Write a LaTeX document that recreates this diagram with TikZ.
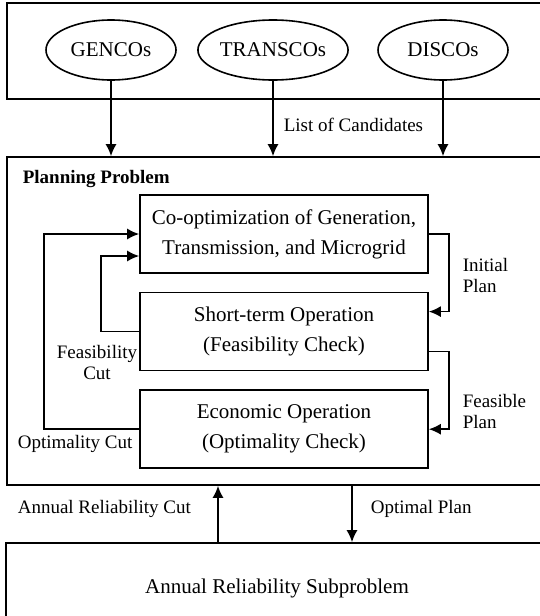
\documentclass[tikz,border=0pt]{standalone}
\usepackage{fontspec}
\setmainfont{Liberation Serif}
\usepackage{tikz}
\usetikzlibrary{arrows.meta}
\usetikzlibrary{shapes.geometric}
\usetikzlibrary{positioning}

\begin{document}
\begin{tikzpicture}[x=0.5pt,y=-0.5pt,line width=0.8pt,
        stage/.style={draw,minimum width=144pt,minimum height=39pt,align=center,font=\fontsize{10.5}{15}\selectfont},
        party/.style={draw,ellipse,minimum width=65pt,minimum height=30pt,inner sep=0pt,font=\fontsize{10.5}{13}\selectfont},
        lbl/.style={inner sep=0pt,font=\fontsize{9.5}{10.5}\selectfont},
        flow/.style={-{Latex[length=6pt,width=5.5pt]}}]
        \clip (0,0) rectangle (540,616);

        \node [draw,minimum width=270.5pt,minimum height=48pt] (market) at (277.5,51) {};
        \node [party] (gen) at (111,50) {GENCOs};
        \node [party] (trans) at (273,50) {TRANSCOs};
        \node [party] (dis) at (443,50) {DISCOs};

        \node [draw,minimum width=270.5pt,minimum height=164pt] (plan) at (277.5,321) {};
        \node [lbl,anchor=west,font=\fontsize{9.5}{10.5}\selectfont\bfseries] (planlbl) at (22,179) {Planning Problem};

        \path [flow] (gen.south) edge (gen.south |- plan.north);
        \path [flow] (trans.south) edge node [lbl,right=5pt,yshift=-3pt] (candlbl) {List of Candidates} (trans.south |- plan.north);
        \path [flow] (dis.south) edge (dis.south |- plan.north);

        \node [stage] (co) at (284,234) {Co-optimization of Generation,\\Transmission, and Microgrid};
        \node [stage,below=9pt of co] (st) {Short-term Operation\\(Feasibility Check)};
        \node [stage,below=9pt of st] (eo) {Economic Operation\\(Optimality Check)};

        % plans go down on the right, cuts go back up on the left
        \draw [flow] (co.east) -- ++(20,0) |- ([yshift=10pt]st.east);
        \draw [flow] ([yshift=-10pt]st.east) -- ++(20,0) |- (eo.east);
        \draw [flow] (st.west) -- ++(-38,0) |- ([yshift=-11pt]co.west);
        \draw [flow] (eo.west) -- ++(-95,0) |- (co.west);

        \node [lbl,align=left,anchor=west] (initlbl) at (462,275) {Initial\\Plan};
        \node [lbl,align=left,anchor=west] (feaslbl) at (462,411) {Feasible\\Plan};
        \node [lbl,align=center] (fcutlbl) at (97,362) {Feasibility\\Cut};
        \node [lbl,anchor=west] (ocutlbl) at (17,444) {Optimality Cut};

        \node [draw,minimum width=271pt,minimum height=45pt,font=\fontsize{10.5}{13}\selectfont] (rel) at (277,588) {Annual Reliability Subproblem};

        \draw [flow] ([xshift=-29.5pt]rel.north) -- ([xshift=-29.5pt]rel.north |- plan.south);
        \draw [flow] ([xshift=37.5pt]rel.north |- plan.south) -- ([xshift=37.5pt]rel.north);
        \node [lbl,anchor=west] (rcutlbl) at (17,509) {Annual Reliability Cut};
        \node [lbl,anchor=west] (optlbl) at (370,509) {Optimal Plan};
\end{tikzpicture}
\end{document}
